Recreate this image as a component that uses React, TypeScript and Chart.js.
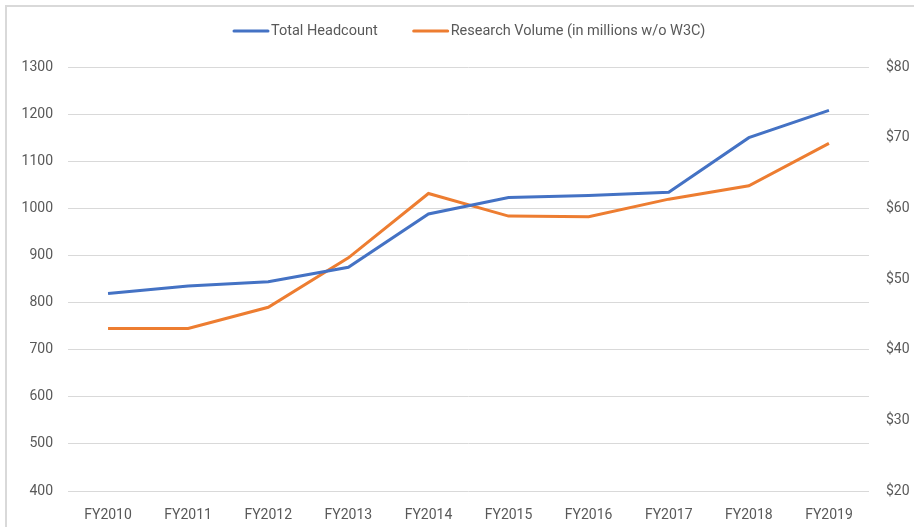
import React, { useEffect, useRef } from "react";
import { Chart, registerables } from "chart.js";

Chart.register(...registerables);

const categories = ["FY2010", "FY2011", "FY2012", "FY2013", "FY2014", "FY2015", "FY2016", "FY2017", "FY2018", "FY2019"];
const headcount = [819, 835, 844, 875, 988, 1023, 1027, 1034, 1150, 1208];
const researchVolume = [43.0, 43.0, 46.0, 53.0, 62.1, 58.9, 58.8, 61.3, 63.2, 69.2];
const seriesNames = ["Total Headcount", "Research Volume (in millions w/o W3C)"];
const leftTicks = { min: 400, max: 1300, step: 100 };
const rightTicks = { min: 20, max: 80, step: 10 };

const BLUE = "#4472C4";
const ORANGE = "#ED7D31";
const TEXT = "#595959";
const GRID = "#D9D9D9";
const FONT = "Roboto";

const legendPlugin = {
  id: "customLegend",
  afterDraw(chart: any) {
    const ctx = chart.ctx;
    ctx.save();
    ctx.font = `14.5px ${FONT}`;
    ctx.textBaseline = "middle";
    ctx.textAlign = "left";
    const y = 31;
    const sample = 36;
    const gapText = 2;
    const gapItem = 35;
    const items = chart.data.datasets.map((d: any) => ({
      label: d.label,
      color: d.borderColor,
      w: sample + gapText + ctx.measureText(d.label).width,
    }));
    let x = 233;
    for (const it of items) {
      ctx.strokeStyle = it.color;
      ctx.lineWidth = 3;
      ctx.lineCap = "round";
      ctx.beginPath();
      ctx.moveTo(x + 1, y);
      ctx.lineTo(x + sample - 1, y);
      ctx.stroke();
      ctx.fillStyle = TEXT;
      ctx.fillText(it.label, x + sample + gapText, y);
      x += it.w + gapItem;
    }
    ctx.restore();
  },
};

export default function App() {
  const ref = useRef<HTMLCanvasElement | null>(null);
  useEffect(() => {
    if (!ref.current) return;
    const chart = new Chart(ref.current, {
      type: "line",
      data: {
        labels: categories,
        datasets: [
          {
            label: seriesNames[0],
            data: headcount,
            borderColor: BLUE,
            backgroundColor: BLUE,
            borderWidth: 3,
            pointRadius: 0,
            tension: 0,
            yAxisID: "y",
          },
          {
            label: seriesNames[1],
            data: researchVolume,
            borderColor: ORANGE,
            backgroundColor: ORANGE,
            borderWidth: 3,
            pointRadius: 0,
            tension: 0,
            yAxisID: "y1",
          },
        ],
      },
      options: {
        animation: false,
        responsive: false,
        layout: { padding: { top: 67, left: 0, right: 0, bottom: 0 } },
        plugins: {
          legend: { display: false },
          tooltip: { enabled: false },
        },
        scales: {
          x: {
            offset: true,
            grid: { display: false },
            border: { display: false },
            ticks: { color: TEXT, font: { family: FONT, size: 14 }, padding: 8, maxRotation: 0 },
            afterFit: (s: any) => { s.height = 36; },
          },
          y: {
            position: "left",
            min: leftTicks.min,
            max: leftTicks.max,
            ticks: {
              stepSize: leftTicks.step,
              color: TEXT,
              font: { family: FONT, size: 14 },
              padding: 15,
              callback: (v: any) => String(v),
            },
            grid: { color: GRID, lineWidth: 1, drawTicks: false },
            border: { display: false },
            afterFit: (s: any) => { s.width = 68; },
          },
          y1: {
            position: "right",
            min: rightTicks.min,
            max: rightTicks.max,
            ticks: {
              stepSize: rightTicks.step,
              color: TEXT,
              font: { family: FONT, size: 14 },
              padding: 17,
              callback: (v: any) => "$" + v,
            },
            grid: { display: false, drawTicks: false },
            border: { display: false },
            afterFit: (s: any) => { s.width = 45; },
          },
        },
      },
      plugins: [legendPlugin],
    });
    return () => chart.destroy();
  }, []);
  return (
    <div style={{ position: "fixed", left: 0, top: 0, width: 914, height: 527, background: "#fff" }}>
      <canvas ref={ref} width={914} height={527} style={{ display: "block", width: 914, height: 527 }} />
      <div
        style={{
          position: "absolute",
          left: 5,
          top: 5,
          right: 0,
          bottom: 0,
          borderLeft: `2px solid ${GRID}`,
          borderTop: `2px solid ${GRID}`,
          pointerEvents: "none",
        }}
      />
    </div>
  );
}
